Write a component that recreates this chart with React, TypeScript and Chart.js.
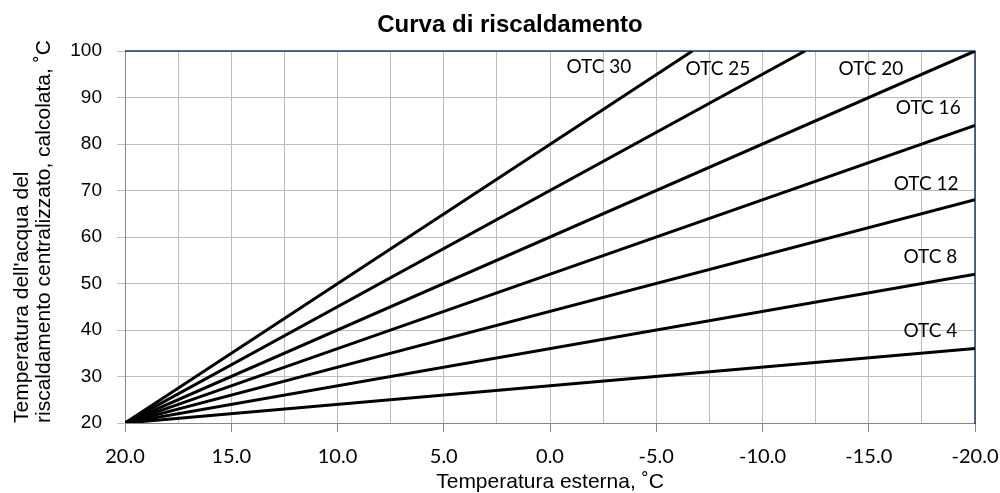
import React, { useEffect, useRef } from 'react';
import { Chart, registerables } from 'chart.js';

Chart.register(...registerables);

const CHART_TITLE = 'Curva di riscaldamento';
const X_TITLE = 'Temperatura esterna, ˚C';
const Y_TITLE = ["Temperatura dell'acqua del", 'riscaldamento centralizzato, calcolata, ˚C'];

// Heating curves: straight lines from start point to end point
const curveNames = ['OTC 4', 'OTC 8', 'OTC 12', 'OTC 16', 'OTC 20', 'OTC 25', 'OTC 30'];
const curveStartX = [20, 20, 20, 20, 20, 20, 20];
const curveStartY = [20, 20, 20, 20, 20, 20, 20];
const curveEndX = [-20, -20, -20, -20, -20, -12, -6.7];
const curveEndY = [36, 52, 68, 84, 100, 100, 100];

// Curve label anchor positions (data units)
const labelX = [-17.9, -17.9, -17.7, -17.8, -15.1, -7.9, -2.3];
const labelY = [39.9, 55.7, 71.5, 87.7, 96.1, 96.1, 96.5];

// Axis ranges
const xMin = -20;
const xMax = 20;
const xGridStep = 2.5;
const xLabelStep = 5;
const yMin = 20;
const yMax = 100;
const yStep = 10;

const GRID = '#BDBDBD';
const AXIS = '#868686';
const FRAME = '#1F3A70';

const SANS = "'Liberation Sans', Arial, sans-serif";
const HUMAN = "Lato, 'Open Sans', sans-serif";

const isLabelTick = (v: number) => Math.abs(v / xLabelStep - Math.round(v / xLabelStep)) < 1e-6;

const decorPlugin = {
  id: 'decor',
  beforeDatasetsDraw(chart: any) {
    const { ctx, chartArea } = chart;
    ctx.save();
    ctx.strokeStyle = FRAME;
    ctx.lineWidth = 1.5;
    ctx.beginPath();
    ctx.moveTo(chartArea.left, chartArea.top);
    ctx.lineTo(chartArea.right, chartArea.top);
    ctx.lineTo(chartArea.right, chartArea.bottom + 1);
    ctx.stroke();
    ctx.restore();
  },
  afterDatasetsDraw(chart: any) {
    const { ctx, scales } = chart;
    const xs = scales.x;
    const ys = scales.y;
    ctx.save();
    ctx.fillStyle = '#000';
    ctx.font = `19px ${HUMAN}`;
    ctx.textAlign = 'center';
    ctx.textBaseline = 'middle';
    curveNames.forEach((name, i) => {
      ctx.fillText(name, xs.getPixelForValue(labelX[i]), ys.getPixelForValue(labelY[i]));
    });
    // chart title
    ctx.font = `bold 24px ${SANS}`;
    ctx.textBaseline = 'alphabetic';
    ctx.fillText(CHART_TITLE, chart.width * 0.51, 32);
    ctx.restore();
  },
};

export default function App() {
  const canvasRef = useRef<HTMLCanvasElement | null>(null);

  useEffect(() => {
    let chart: Chart | null = null;
    let cancelled = false;
    const build = () => {
      if (cancelled || !canvasRef.current) return;
      const datasets = curveNames.map((name, i) => ({
        label: name,
        data: [
          { x: curveStartX[i], y: curveStartY[i] },
          { x: curveEndX[i], y: curveEndY[i] },
        ],
        borderColor: '#000',
        backgroundColor: '#000',
        borderWidth: 3,
        pointRadius: 0,
        fill: false,
        tension: 0,
      }));
      chart = new Chart(canvasRef.current, {
        type: 'line',
        data: { datasets },
        plugins: [decorPlugin],
        options: {
          animation: false,
          responsive: false,
          maintainAspectRatio: false,
          layout: { padding: { top: 51, right: 25, bottom: 0, left: 0 } },
          plugins: {
            legend: { display: false },
            tooltip: { enabled: false },
            title: { display: false },
          },
          scales: {
            x: {
              type: 'linear',
              reverse: true,
              min: xMin,
              max: xMax,
              afterFit: (s: any) => {
                s.height = 70;
                s.paddingLeft = 0;
                s.paddingRight = 0;
              },
              ticks: {
                stepSize: xGridStep,
                autoSkip: false,
                maxRotation: 0,
                minRotation: 0,
                padding: 13,
                color: '#000',
                font: { family: HUMAN, size: 20 },
                callback: (v: any) => (isLabelTick(Number(v)) ? Number(v).toFixed(1) : ''),
              },
              grid: {
                color: GRID,
                lineWidth: 1,
                drawTicks: true,
                tickLength: 9,
                tickColor: (c: any) => (c.tick && isLabelTick(c.tick.value) ? AXIS : 'rgba(0,0,0,0)'),
              },
              border: { display: true, color: AXIS, width: 1 },
              title: {
                display: true,
                text: X_TITLE,
                color: '#000',
                font: { family: SANS, size: 21, lineHeight: 1.1 },
                padding: { top: 0, bottom: -1 },
              },
            },
            y: {
              type: 'linear',
              min: yMin,
              max: yMax,
              afterFit: (s: any) => {
                s.width = 125;
              },
              ticks: {
                stepSize: yStep,
                padding: 15,
                color: '#000',
                font: { family: SANS, size: 19 },
              },
              grid: {
                color: GRID,
                lineWidth: 1,
                drawTicks: true,
                tickLength: 8,
                tickColor: GRID,
              },
              border: { display: true, color: AXIS, width: 1 },
              title: {
                display: true,
                text: Y_TITLE,
                align: 'start',
                color: '#000',
                font: { family: SANS, size: 21, lineHeight: 1.05 },
                padding: { top: 11.5, bottom: 0 },
              },
            },
          },
        },
      } as any);
    };
    const fontsReady = (document as any).fonts
      ? Promise.all([
          (document as any).fonts.load(`19px ${HUMAN}`),
          (document as any).fonts.load(`19px ${SANS}`),
          (document as any).fonts.load(`bold 24px ${SANS}`),
        ]).catch(() => null)
      : Promise.resolve(null);
    fontsReady.then(build);
    return () => {
      cancelled = true;
      if (chart) chart.destroy();
    };
  }, []);

  return (
    <div style={{ position: 'fixed', left: 0, top: 0, width: 1000, height: 493, background: '#fff' }}>
      <canvas ref={canvasRef} width={1000} height={493} style={{ display: 'block', width: 1000, height: 493 }} />
    </div>
  );
}
